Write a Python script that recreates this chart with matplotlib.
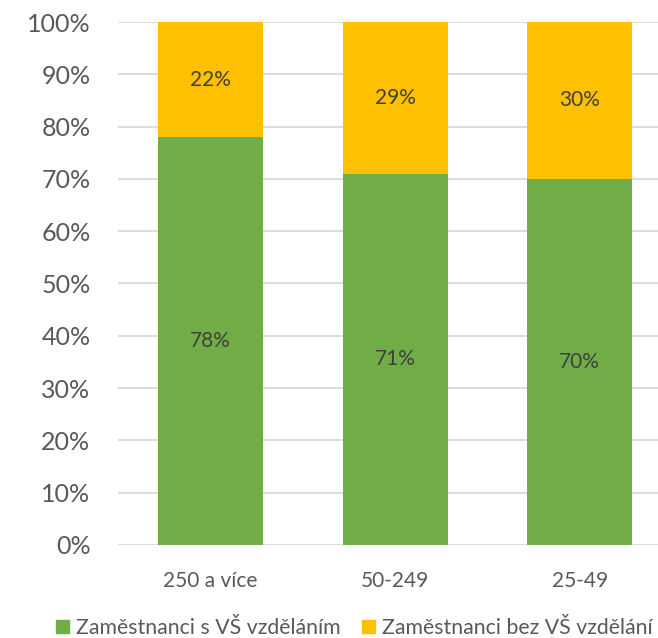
import matplotlib
matplotlib.use("Agg")
import matplotlib.pyplot as plt
from matplotlib.patches import Patch
from matplotlib.ticker import PercentFormatter

plt.rcParams['font.family'] = ['Lato', 'DejaVu Sans']

categories = ["250 a více", "50-249", "25-49"]
s_vs = [78, 71, 70]
bez_vs = [22, 29, 30]
series_names = ["Zaměstnanci s VŠ vzděláním", "Zaměstnanci bez VŠ vzdělání"]
colors = ["#70AD47", "#FFC000"]

fig = plt.figure(figsize=(6.58, 6.38), dpi=100)
ax = fig.add_axes([0.1797, 0.1458, 0.8416, 0.8197])

x = range(len(categories))
b1 = ax.bar(x, s_vs, width=0.57, color=colors[0], zorder=3)
b2 = ax.bar(x, bez_vs, bottom=s_vs, width=0.57, color=colors[1], zorder=3)

for bars, vals, bottoms in ((b1, s_vs, [0] * 3), (b2, bez_vs, s_vs)):
    for rect, v, b in zip(bars, vals, bottoms):
        ax.text(rect.get_x() + rect.get_width() / 2, b + v / 2, f"{v}%",
                ha="center", va="center", fontsize=15, color="#404040", zorder=4)

ax.set_xlim(-0.5, 2.5)
ax.set_ylim(0, 100)
ax.set_yticks(range(0, 101, 10))
ax.yaxis.set_major_formatter(PercentFormatter(decimals=0))
ax.set_xticks(list(x))
ax.set_xticklabels(categories)
ax.tick_params(axis="y", length=0, pad=20, labelsize=18, labelcolor="#595959")
ax.tick_params(axis="x", length=0, pad=19, labelsize=15, labelcolor="#595959")
ax.grid(axis="y", color="#D9D9D9", linewidth=1.3, zorder=0)
for s in ax.spines.values():
    s.set_visible(False)

handles = [Patch(color=c) for c in colors]
fig.legend(handles, series_names, loc="center left", bbox_to_anchor=(0.072, 0.016),
           ncol=2, frameon=False, fontsize=15.3, handlelength=0.6, handleheight=0.6,
           handletextpad=0.35, columnspacing=1.0, labelcolor="#595959",
           borderaxespad=0)

fig.savefig("out.png", dpi=100)
